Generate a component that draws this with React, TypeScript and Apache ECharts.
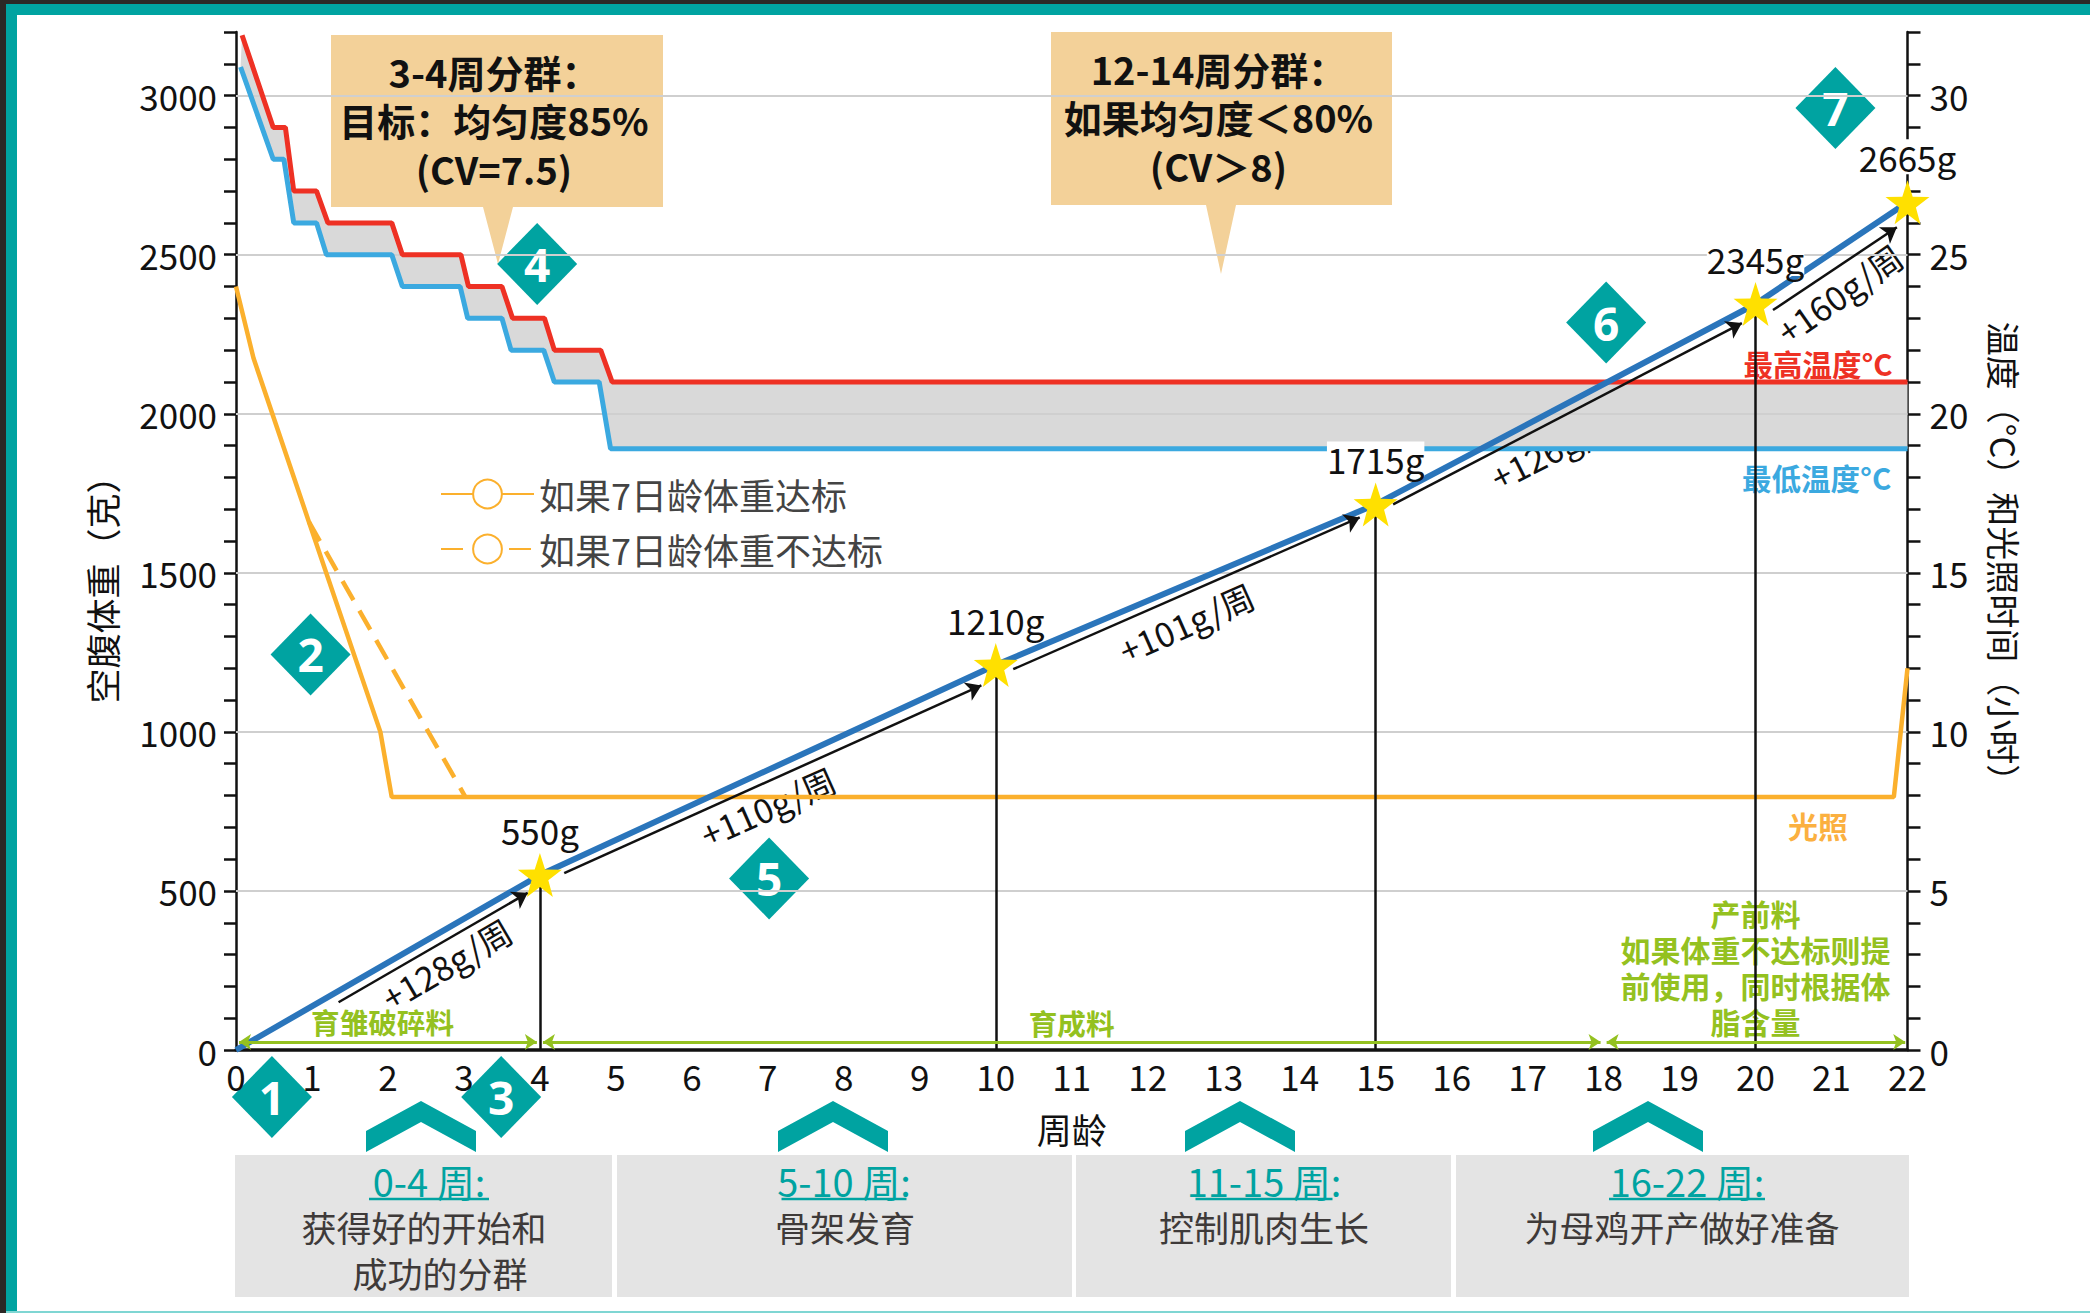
import React, { useEffect, useRef } from "react";
import * as echarts from "echarts";

const maxTemp = [[0.08,31.9],[0.49,29],[0.65,29],[0.76,27],[1.06,27],[1.21,26],[2.05,26],[2.19,25],[2.96,25],[3.06,24],[3.5,24],[3.64,23],[4.06,23],[4.19,22],[4.8,22],[4.95,21],[22,21]];
const minTemp = [[0.06,30.9],[0.49,28],[0.63,28],[0.76,26],[1.06,26],[1.19,25],[2.05,25],[2.19,24],[2.95,24],[3.05,23],[3.5,23],[3.62,22],[4.05,22],[4.19,21],[4.78,21],[4.93,18.9],[22,18.9]];
const lightOnTarget = [[0,24],[0.23,21.75],[0.96,16.6],[1.9,10],[2.05,7.95],[21.82,7.95],[22,12]];
const lightOffTarget = [[0.96,16.6],[3.02,7.95]];
const bodyWeight = [[0,0],[4,550],[10,1210],[15,1715],[20,2345],[22,2665]];
const milestones = [[4,550],[10,1210],[15,1715],[20,2345],[22,2665]];
const dropWeeks = [[4,550],[10,1210],[15,1715],[20,2345]];
const gridValues = [500,1000,1500,2000,2500,3000];
const gainArrows = [[[1.35,150],[3.84,494]],[[4.32,556],[9.81,1146]],[[10.23,1197],[14.79,1674]],[[15.23,1715],[19.82,2285]],[[20.23,2326],[21.86,2586]]];
const feedArrows = [[[0.04,25],[3.96,25]],[[4.04,25],[17.96,25]],[[18.04,25],[21.97,25]]];
const legendSolid = "如果7日龄体重达标";
const legendDashed = "如果7日龄体重不达标";
const callout1 = ["3-4周分群：","目标：均匀度85%","(CV=7.5)"];
const callout2 = ["12-14周分群：","如果均匀度＜80%","(CV＞8)"];
const preLayFeed = ["产前料","如果体重不达标则提","前使用，同时根据体","脂含量"];

const k = 2090 / 1568;
const TEAL = "#00A3A1";
const CJK = '"Noto Sans CJK SC"';
const NARROW = '"Liberation Sans Narrow","Noto Sans CJK SC"';
const STAR = "path://M50 0 L61.8 35.5 L100 36.3 L69.1 58.8 L79.4 95 L50 73.5 L20.6 95 L30.9 58.8 L0 36.3 L38.2 35.5 Z";

function T(x: number, y: number, text: string, size: number, fill: string, extra: any = {}) {
  const { rotation, scaleX, ...style } = extra;
  return {
    type: "text", x, y, rotation: rotation || 0, scaleX: scaleX || 1,
    style: { text, fontSize: size, fontFamily: CJK, fill, align: "center", verticalAlign: "middle", ...style },
  };
}
function diamond(cx: number, cy: number, n: string) {
  return [
    { type: "polygon", shape: { points: [[cx, cy - 41], [cx + 40, cy], [cx, cy + 41], [cx - 40, cy]] }, style: { fill: TEAL } },
    T(cx, cy, n, 46, "#fff", { fontWeight: "bold", fontFamily: '"Open Sans"' }),
  ];
}
function chevron(cx: number) {
  const pts = [[cx - 55, 1131], [cx, 1101], [cx + 55, 1131], [cx + 55, 1152], [cx, 1122], [cx - 55, 1152]];
  return { type: "polygon", shape: { points: pts }, style: { fill: TEAL } };
}
function callout(x: number, y: number, w: number, h: number, tx: number, tw: number, tipY: number, lines: string[]) {
  return [
    { type: "polygon", shape: { points: [[x, y], [x + w, y], [x + w, y + h], [tx + tw, y + h], [tx, tipY], [tx - tw, y + h], [x, y + h]] }, style: { fill: "#F3D199" } },
    ...lines.map((s, i) => T(x + w / 2 - 3, y + 36 + i * 48.5, s, 38, "#111", { fontWeight: "bold" })),
  ];
}
function panel(x: number, w: number, head: string, hx: number, hw: number, body: [string, number, number][]) {
  return [
    { type: "rect", shape: { x, y: 1155, width: w, height: 142 }, style: { fill: "#E4E4E4" } },
    T(hx, 1180, head, 38, TEAL),
    { type: "line", shape: { x1: hx - hw / 2, y1: 1199, x2: hx + hw / 2, y2: 1199 }, style: { stroke: TEAL, lineWidth: 2.5 } },
    ...body.map(([s, bx, by]) => T(bx, by, s, 35, "#3E3A39")),
  ];
}

function buildOption() {
  const graphics: any[] = [
    ...callout(331, 35, 332, 172, 498, 15, 264, callout1),
    ...callout(1051, 32, 341, 173, 1221, 15, 274, callout2),
    ...diamond(204 * k, 823 * k, "1"),
    ...diamond(233 * k, 491 * k, "2"),
    ...diamond(376 * k, 823 * k, "3"),
    ...diamond(403 * k, 198 * k, "4"),
    ...diamond(577 * k, 659 * k, "5"),
    ...diamond(1205 * k, 242 * k, "6"),
    ...diamond(1377 * k, 81 * k, "7"),
    chevron(421), chevron(833), chevron(1240), chevron(1648),
    ...panel(235, 377, "0-4 周:", 429, 120, [["获得好的开始和", 424, 1226], ["成功的分群", 440, 1272]]),
    ...panel(617, 455, "5-10 周:", 844, 125, [["骨架发育", 845, 1226]]),
    ...panel(1076, 375, "11-15 周:", 1264, 137, [["控制肌肉生长", 1264, 1226]]),
    ...panel(1456, 453, "16-22 周:", 1687, 156, [["为母鸡开产做好准备", 1682, 1226]]),
    T(335 * k, 723 * k, "+128g/周", 34, "#111", { rotation: 0.53, fontFamily: NARROW }),
    T(576 * k, 605 * k, "+110g/周", 34, "#111", { rotation: 0.42, fontFamily: NARROW }),
    T(890 * k, 467 * k, "+101g/周", 34, "#111", { rotation: 0.42, fontFamily: NARROW }),
    T(1168 * k, 335 * k, "+126g/周", 34, "#111", { rotation: 0.47, fontFamily: NARROW }),
    T(1380 * k, 220 * k, "+160g/周", 34, "#111", { rotation: 0.61, fontFamily: NARROW }),
    T(1364 * k, 272 * k, "最高温度°C", 29.5, "#EE3124", { fontWeight: "bold", backgroundColor: "#fff", padding: [1, 0, 1, 0] }),
    T(1363 * k, 358 * k, "最低温度°C", 29.5, "#3BA9E0", { fontWeight: "bold", backgroundColor: "#fff", padding: [1, 0, 1, 0] }),
    T(1364 * k, 619 * k, "光照", 30, "#FBB040", { fontWeight: "bold" }),
    T(287 * k, 766 * k, "育雏破碎料", 28.6, "#94C120", { fontWeight: "bold" }),
    T(804 * k, 767 * k, "育成料", 28.6, "#94C120", { fontWeight: "bold" }),
    ...preLayFeed.map((s, i) => T(1317 * k, (685 + i * 27) * k, s, 30, "#94C120", { fontWeight: "bold", backgroundColor: "#fff" })),
  ];

  const axisLabel = { fontFamily: NARROW, fontSize: 35, color: "#111" };
  return {
    animation: false,
    backgroundColor: "transparent",
    grid: { left: 236, right: 182.5, top: 32, bottom: 263, containLabel: false },
    legend: {
      left: 435, top: 471, orient: "vertical", itemWidth: 93, itemHeight: 36, itemGap: 19,
      textStyle: { fontFamily: CJK, fontSize: 36, color: "#444" }, data: [legendSolid, legendDashed],
    },
    graphic: { z: 100, elements: graphics },
    xAxis: {
      type: "value", min: 0, max: 22, interval: 1,
      name: "周龄", nameLocation: "middle", nameGap: 61,
      nameTextStyle: { fontFamily: CJK, fontSize: 35, color: "#111" },
      axisLine: { show: true, onZero: false, lineStyle: { color: "#111", width: 3.5 } },
      axisTick: { show: false }, splitLine: { show: false },
      axisLabel: { ...axisLabel, margin: 8, showMinLabel: true, showMaxLabel: true },
    },
    yAxis: [
      {
        type: "value", min: 0, max: 3200, interval: 100, position: "left",
        name: "空腹体重（克）", nameLocation: "middle", nameGap: 117, nameRotate: 90,
        nameTextStyle: { fontFamily: CJK, fontSize: 35, color: "#111", padding: [0, 80, 0, 0] },
        axisLine: { show: true, lineStyle: { color: "#111", width: 2.5 } },
        axisTick: { show: true, inside: false, length: 12, lineStyle: { color: "#111", width: 2.5 } },
        splitLine: { show: false },
        axisLabel: { ...axisLabel, margin: 19, formatter: (v: number) => (v % 500 === 0 ? String(v) : "") },
      },
      {
        type: "value", min: 0, max: 32, interval: 1, position: "right",
        name: "温度（°C）和光照时间（小时）", nameLocation: "middle", nameGap: 80, nameRotate: -90,
        nameTextStyle: { fontFamily: CJK, fontSize: 34, color: "#111", padding: [0, 0, 0, 38] },
        axisLine: { show: true, lineStyle: { color: "#111", width: 2.5 } },
        axisTick: { show: true, length: 13, lineStyle: { color: "#111", width: 2.5 } },
        splitLine: { show: false },
        axisLabel: { ...axisLabel, margin: 22, formatter: (v: number) => (v % 5 === 0 ? String(v) : "") },
      },
    ],
    series: [
      {
        type: "custom", yAxisIndex: 1, z: 1, silent: true, data: [[0, 0]], clip: false,
        renderItem: (_p: any, api: any) => ({
          type: "polygon",
          shape: { points: [...maxTemp, ...[...minTemp].reverse()].map((d) => api.coord(d)) },
          style: { fill: "#D9D9D9" },
        }),
      },
      {
        type: "lines", coordinateSystem: "cartesian2d", z: 2, silent: true,
        lineStyle: { color: "#CFCFCF", width: 2, opacity: 1 },
        data: gridValues.map((v) => ({ coords: [[0, v], [22, v]] })),
      },
      { type: "line", yAxisIndex: 1, z: 3, name: "最高温度", data: maxTemp, showSymbol: false, lineStyle: { color: "#EE3124", width: 5 } },
      { type: "line", yAxisIndex: 1, z: 3, name: "最低温度", data: minTemp, showSymbol: false, lineStyle: { color: "#3BA9E0", width: 5 } },
      { type: "line", yAxisIndex: 1, z: 3, name: legendSolid, data: lightOnTarget, showSymbol: false, itemStyle: { color: "#FBB02D" }, lineStyle: { color: "#FBB02D", width: 4.5 } },
      { type: "line", yAxisIndex: 1, z: 3, name: legendDashed, data: lightOffTarget, showSymbol: false, itemStyle: { color: "#FBB02D" }, lineStyle: { color: "#FBB02D", width: 4.5, type: [22, 12] } },
      {
        type: "lines", coordinateSystem: "cartesian2d", z: 4, silent: true,
        lineStyle: { color: "#111", width: 2.5, opacity: 1 },
        data: dropWeeks.map(([w, g]) => ({ coords: [[w, 0], [w, g]] })),
      },
      { type: "line", z: 5, name: "体重", data: bodyWeight, showSymbol: false, lineStyle: { color: "#2A75BB", width: 6 }, clip: false },
      {
        type: "lines", coordinateSystem: "cartesian2d", z: 6, silent: true,
        symbol: ["none", "arrow"], symbolSize: 15,
        lineStyle: { color: "#111", width: 2.5, opacity: 1 },
        data: gainArrows.map((c) => ({ coords: c })),
      },
      {
        type: "lines", coordinateSystem: "cartesian2d", z: 6, silent: true,
        symbol: ["arrow", "arrow"], symbolSize: 12,
        lineStyle: { color: "#94C120", width: 3, opacity: 1 },
        data: feedArrows.map((c) => ({ coords: c })),
      },
      {
        type: "scatter", z: 8, data: milestones, symbol: STAR, symbolSize: 44, clip: false,
        itemStyle: { color: "#FFE000", opacity: 1 },
        label: {
          show: true, position: "top", distance: 6, fontFamily: NARROW, fontSize: 35, color: "#111",
          backgroundColor: "#fff", formatter: (p: any) => p.value[1] + "g",
        },
      },
    ],
  };
}

export default function App() {
  const ref = useRef<HTMLDivElement>(null);
  useEffect(() => {
    document.body.style.margin = "0";
    const chart = echarts.init(ref.current!, undefined, { renderer: "svg" });
    chart.setOption(buildOption() as any);
    return () => chart.dispose();
  }, []);
  const bar = (s: React.CSSProperties) => <div style={{ position: "absolute", ...s }} />;
  return (
    <div style={{ position: "absolute", left: 0, top: 0, width: 2090, height: 1313, background: "#fff", overflow: "hidden" }}>
      {bar({ left: 0, top: 0, width: 2090, height: 4, background: "#2B2826" })}
      {bar({ left: 0, top: 4, width: 2090, height: 11, background: TEAL })}
      {bar({ left: 0, top: 0, width: 6, height: 1313, background: "#2B2826" })}
      {bar({ left: 6, top: 4, width: 11, height: 1309, background: TEAL })}
      {bar({ left: 6, top: 1311, width: 2084, height: 2, background: "#7FD6D3" })}
      <div ref={ref} style={{ position: "absolute", left: 0, top: 0, width: 2090, height: 1313 }} />
    </div>
  );
}
